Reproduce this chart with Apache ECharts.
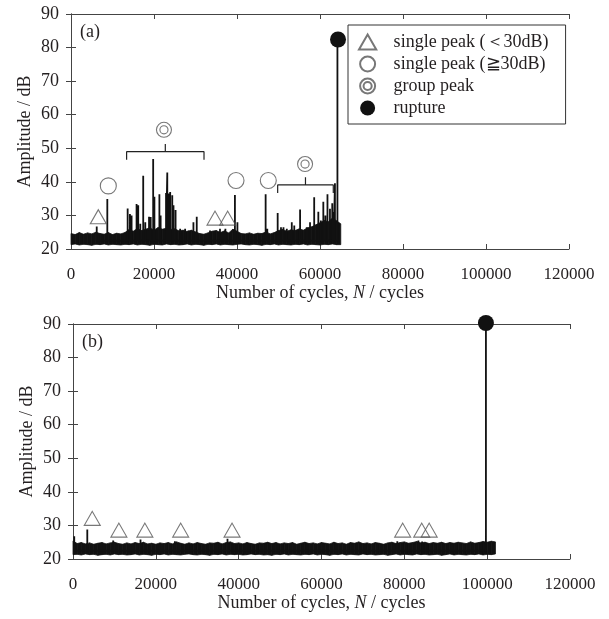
<!DOCTYPE html>
<html>
<head>
<meta charset="utf-8">
<script src="https://cdn.jsdelivr.net/npm/echarts@6/dist/echarts.min.js"></script>
<style>
  html, body { margin: 0; padding: 0; background: #fff; }
  #chart { width: 609px; height: 619px; }
</style>
</head>
<body>
<div id="chart"></div>
<script>
// noise floor envelopes, one value every 1000 cycles starting at 0
const noiseStep = 1000;
const topNoiseHigh = [
  24.6, 24.3, 24.9, 24.4, 24.8, 24.5, 25.0, 24.6, 24.4, 24.9,
  24.3, 24.7, 24.5, 24.9, 25.8, 25.3, 26.1, 25.5, 25.9, 26.3,
  25.6, 26.4, 25.9, 26.2, 25.8, 26.0, 25.4, 25.6, 25.2, 25.6,
  25.1, 24.6, 24.4, 24.8, 25.3, 25.5, 24.9, 25.4, 24.8, 25.9,
  25.3, 24.6, 24.5, 24.8, 24.4, 24.7, 24.6, 25.1, 24.5, 24.9,
  25.5, 25.8, 25.3, 25.7, 25.5, 26.0, 25.6, 26.3, 26.6, 27.2,
  27.8, 28.5, 28.1, 29.2, 28.4, 27.5
];
const topNoiseLow = [
  21.3, 21.5, 21.2, 21.4, 21.3, 21.1, 21.4, 21.3, 21.5, 21.2,
  21.4, 21.3, 21.2, 21.4, 21.3, 21.5, 21.2, 21.4, 21.3, 21.1,
  21.4, 21.3, 21.2, 21.5, 21.3, 21.4, 21.2, 21.3, 21.5, 21.2,
  21.4, 21.3, 21.1, 21.4, 21.3, 21.5, 21.2, 21.4, 21.3, 21.2,
  21.4, 21.5, 21.3, 21.2, 21.4, 21.3, 21.1, 21.4, 21.3, 21.5,
  21.2, 21.4, 21.3, 21.2, 21.4, 21.3, 21.5, 21.2, 21.4, 21.3,
  21.2, 21.4, 21.3, 21.5, 21.3, 21.3
];
const bottomNoiseHigh = [
  25.4, 24.6, 24.9, 24.5, 24.8, 24.4, 24.7, 24.9, 24.5, 24.8,
  25.0, 24.6, 24.4, 24.8, 24.5, 24.9, 24.6, 25.0, 24.5, 24.7,
  24.4, 24.8, 24.6, 24.9, 24.5, 25.1, 24.7, 24.4, 24.8, 24.5,
  24.9, 24.6, 24.4, 24.8, 24.7, 25.0, 24.5, 24.9, 25.1, 24.6,
  24.8, 24.5, 24.9, 24.6, 24.4, 24.8, 24.7, 25.0, 24.6, 24.9,
  24.5, 24.8, 24.6, 24.9, 24.4, 24.7, 25.0, 24.6, 24.8, 24.5,
  24.9, 24.7, 24.5, 25.0, 24.6, 24.8, 24.4, 24.9, 24.7, 25.1,
  24.6, 24.8, 24.5, 24.9, 24.7, 24.4, 24.8, 25.0, 24.6, 24.9,
  25.1, 24.7, 24.9, 25.2, 24.8, 25.0, 24.6, 24.9, 24.7, 25.0,
  24.6, 24.9, 24.7, 25.0, 24.8, 24.6, 25.1, 24.7, 24.9, 25.2,
  25.0, 25.3, 25.1
];
const bottomNoiseLow = [
  21.3, 21.4, 21.2, 21.5, 21.3, 21.4, 21.1, 21.3, 21.4, 21.2,
  21.5, 21.3, 21.4, 21.2, 21.3, 21.5, 21.2, 21.4, 21.3, 21.1,
  21.4, 21.3, 21.5, 21.2, 21.4, 21.3, 21.2, 21.4, 21.5, 21.3,
  21.2, 21.4, 21.3, 21.1, 21.4, 21.3, 21.5, 21.2, 21.4, 21.3,
  21.4, 21.2, 21.3, 21.5, 21.3, 21.4, 21.2, 21.3, 21.1, 21.4,
  21.3, 21.5, 21.2, 21.4, 21.3, 21.2, 21.4, 21.3, 21.5, 21.2,
  21.4, 21.3, 21.1, 21.4, 21.3, 21.5, 21.2, 21.4, 21.3, 21.2,
  21.5, 21.3, 21.4, 21.2, 21.3, 21.4, 21.1, 21.3, 21.5, 21.2,
  21.4, 21.3, 21.2, 21.5, 21.3, 21.4, 21.2, 21.3, 21.4, 21.1,
  21.3, 21.5, 21.2, 21.4, 21.3, 21.2, 21.4, 21.3, 21.5, 21.2,
  21.4, 21.3, 21.5
];

// AE hits standing out of the noise: [cycles, amplitude dB]
const topSpikes = [
  [6200, 26.7], [8750, 34.9], [13650, 32.1], [14200, 30.4], [14600, 30.0],
  [15800, 33.4], [16200, 33.0], [16700, 27.5], [17400, 41.8], [17900, 28.0],
  [18800, 29.6], [19200, 29.5], [19800, 46.8], [20100, 35.6], [21300, 36.3],
  [21600, 30.0], [22900, 36.7], [23200, 42.8], [23500, 36.5], [23900, 37.0],
  [24400, 36.0], [24700, 33.0], [25200, 31.6], [26300, 26.0], [27500, 26.0],
  [28300, 25.5], [29500, 28.0], [30300, 29.6], [33500, 25.5], [35900, 26.0],
  [37200, 26.0], [39500, 36.1], [40100, 28.0], [46900, 36.3], [47300, 26.0],
  [49800, 30.7], [50600, 26.5], [51200, 26.5], [52000, 26.0], [53200, 28.0],
  [53800, 27.0], [55200, 31.8], [56800, 26.5], [57600, 28.0], [58600, 35.4],
  [59600, 31.1], [60200, 28.5], [60800, 34.1], [61300, 30.0], [61800, 36.3],
  [62400, 32.0], [62950, 33.6], [63300, 31.0], [63600, 39.6], [64200, 82.0]
];
const bottomSpikes = [
  [300, 26.8], [3450, 28.8], [9700, 25.5], [16300, 25.8], [24600, 25.3],
  [37300, 26.0], [78300, 25.3], [83400, 25.5], [84300, 25.2], [99700, 89.0]
];

// annotation markers
const topSingleLow = [[6580, 29.6], [34700, 29.2], [37750, 29.2]];
const topSingleHigh = [[8990, 38.8], [39760, 40.4], [47540, 40.4]];
const topGroup = [[22400, 55.5], [56400, 45.3]];
const topRupture = [[64340, 82.4]];
const topBraces = [[13400, 32050, 49.0], [49800, 63200, 39.1]];
const bottomSingleLow = [
  [4650, 32.1], [11080, 28.6], [17350, 28.6], [26000, 28.6],
  [38400, 28.6], [79600, 28.6], [84200, 28.6], [86000, 28.6]
];
const bottomRupture = [[99700, 90.3]];

const NAME_LOW = 'single peak (\uFF1C30dB)';
const NAME_HIGH = 'single peak (\u226730dB)';
const NAME_GROUP = 'group peak';
const NAME_RUPTURE = 'rupture';

const FONT = '"Liberation Serif", "Times New Roman", serif';
const TEXT = '#231f20';
const FRAME = '#444';
const MARK = '#555';
const INK = '#111';
const TRIANGLE = 'path://M50 0L100 87L0 87Z';
const DOUBLE_CIRCLE = 'path://M50 2A48 48 0 1 1 50 98A48 48 0 1 1 50 2ZM50 24A26 26 0 1 1 50 76A26 26 0 1 1 50 24Z';

function noiseRows(high, low) {
  return high.map((v, i) => [i * noiseStep, v, low[i]]);
}

// filled band between the two envelopes, one quad per step
function bandSeries(p, high, low) {
  const rows = noiseRows(high, low);
  return {
    type: 'custom', xAxisIndex: p * 2, yAxisIndex: p * 2, silent: true,
    data: rows,
    renderItem(params, api) {
      const i = params.dataIndex;
      if (i >= rows.length - 1) return null;
      const a = rows[i], b = rows[i + 1];
      const pts = [
        api.coord([a[0], a[1]]), api.coord([b[0], b[1]]),
        api.coord([b[0], b[2]]), api.coord([a[0], a[2]])
      ];
      return {
        type: 'polygon', shape: { points: pts },
        style: { fill: INK, stroke: INK, lineWidth: 0.8 }
      };
    }
  };
}

function spikePath(spikes, base) {
  const pts = [];
  spikes.forEach(([x, y]) => {
    pts.push([x, base], [x, y], [x, base]);
  });
  return pts;
}

function bracePath([start, end, y]) {
  const mid = (start + end) / 2;
  return [[start, y - 2.4], [start, y], [mid, y], [mid, y + 2.3], [mid, y], [end, y], [end, y - 2.4]];
}

function xAxes(grid) {
  const common = {
    gridIndex: grid, type: 'value', min: 0, max: 120000, interval: 20000,
    axisLine: { show: true, lineStyle: { color: FRAME, width: 1 } },
    axisTick: { inside: true, length: 5, lineStyle: { color: FRAME } },
    splitLine: { show: false }
  };
  return [
    Object.assign({}, common, {
      position: 'bottom',
      axisLabel: { margin: 17, fontFamily: FONT, fontSize: 17, color: TEXT, formatter: (v) => String(v) },
      name: 'Number of cycles, {i|N} / cycles',
      nameLocation: 'middle', nameGap: 35, nameMoveOverlap: false,
      nameTextStyle: {
        fontFamily: FONT, fontSize: 18, color: TEXT,
        rich: { i: { fontFamily: FONT, fontSize: 18, fontStyle: 'italic', color: TEXT } }
      }
    }),
    Object.assign({}, common, { position: 'top', axisLabel: { show: false } })
  ];
}

function yAxes(grid) {
  const common = {
    gridIndex: grid, type: 'value', min: 20, max: 90, interval: 10,
    axisLine: { show: true, lineStyle: { color: FRAME, width: 1 } },
    axisTick: { inside: true, length: 5, lineStyle: { color: FRAME } },
    splitLine: { show: false }
  };
  return [
    Object.assign({}, common, {
      position: 'left',
      axisLabel: { margin: 12, fontFamily: FONT, fontSize: 18, color: TEXT },
      name: 'Amplitude / dB', nameLocation: 'middle', nameGap: 37, nameMoveOverlap: false,
      nameTextStyle: { fontFamily: FONT, fontSize: 18, color: TEXT }
    }),
    Object.assign({}, common, { position: 'right', axisLabel: { show: false } })
  ];
}

function panelSeries(p, high, low, spikes, markers, braces) {
  const ax = { xAxisIndex: p * 2, yAxisIndex: p * 2 };
  const list = [
    bandSeries(p, high, low),
    Object.assign({
      type: 'line', data: spikePath(spikes, 22.5), symbol: 'none',
      lineStyle: { width: 1.8, color: INK }, silent: true
    }, ax)
  ];
  braces.forEach((b) => {
    list.push(Object.assign({
      type: 'line', data: bracePath(b), symbol: 'none',
      lineStyle: { width: 1.2, color: '#222' }, silent: true
    }, ax));
  });
  markers.forEach((m) => {
    if (!m.data.length) return;
    list.push(Object.assign({
      type: 'scatter', name: m.name, data: m.data, symbol: m.symbol,
      symbolSize: m.size, itemStyle: m.style, z: 5, silent: true, clip: false
    }, ax));
  });
  return list;
}

const hollow = { color: 'rgba(255,255,255,0)', borderColor: MARK, borderWidth: 1.1 };
const filled = { color: INK, borderColor: INK, borderWidth: 0, opacity: 1 };

function markerSet(low, high, group, rupture) {
  return [
    { name: NAME_LOW, data: low, symbol: TRIANGLE, size: [16, 14], style: hollow },
    { name: NAME_HIGH, data: high, symbol: 'circle', size: 16, style: hollow },
    { name: NAME_GROUP, data: group, symbol: DOUBLE_CIRCLE, size: 15, style: hollow },
    { name: NAME_RUPTURE, data: rupture, symbol: 'circle', size: 16, style: filled }
  ];
}

const chart = echarts.init(document.getElementById('chart'));
chart.setOption({
  animation: false,
  backgroundColor: '#fff',
  grid: [
    { left: 71, right: 40, top: 14, height: 235 },
    { left: 73, right: 39, top: 324, height: 235 }
  ],
  xAxis: [...xAxes(0), ...xAxes(1)],
  yAxis: [...yAxes(0), ...yAxes(1)],
  legend: {
    left: 348, top: 25, orient: 'vertical',
    data: [
      { name: NAME_LOW, icon: TRIANGLE },
      { name: NAME_HIGH, icon: 'circle' },
      { name: NAME_GROUP, icon: DOUBLE_CIRCLE },
      { name: NAME_RUPTURE, icon: 'circle' }
    ],
    symbolKeepAspect: true,
    itemWidth: 42, itemHeight: 15, itemGap: 4,
    padding: [8, 17, 7, 10],
    borderColor: '#333', borderWidth: 1, backgroundColor: '#fff',
    selectedMode: false,
    textStyle: { fontFamily: FONT, fontSize: 18, color: TEXT }
  },
  graphic: [
    { type: 'text', left: 80, top: 23, style: { text: '(a)', font: '18px ' + FONT, fill: TEXT } },
    { type: 'text', left: 82, top: 333, style: { text: '(b)', font: '18px ' + FONT, fill: TEXT } }
  ],
  series: [
    ...panelSeries(0, topNoiseHigh, topNoiseLow, topSpikes,
      markerSet(topSingleLow, topSingleHigh, topGroup, topRupture), topBraces),
    ...panelSeries(1, bottomNoiseHigh, bottomNoiseLow, bottomSpikes,
      markerSet(bottomSingleLow, [], [], bottomRupture), [])
  ]
});
</script>
</body>
</html>
